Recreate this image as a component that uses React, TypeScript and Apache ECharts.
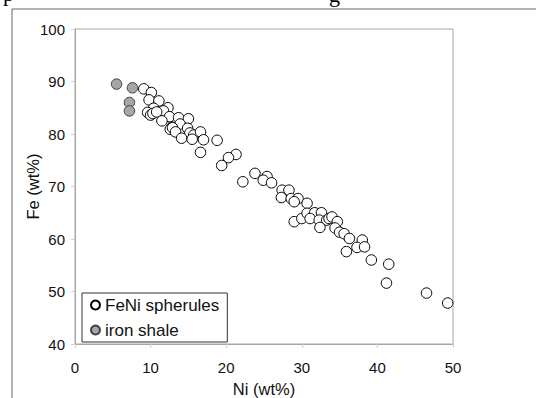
import React, { useEffect, useRef } from "react";
import * as echarts from "echarts";

const xTicks = [0, 10, 20, 30, 40, 50];
const yTicks = [40, 50, 60, 70, 80, 90, 100];

const spherulesNi = [
  9.1, 10.1, 9.8, 11.1, 10.4, 12.3, 11.7, 9.6, 10.0, 10.3, 10.8, 12.5, 13.7, 15.0,
  11.5, 13.9, 12.8, 12.6, 12.9, 14.9, 13.3, 15.2, 15.7, 16.6, 14.1, 15.5, 17.0, 18.8,
  16.6, 21.3, 20.3, 19.4, 23.8, 25.4, 24.9, 26.0, 22.2, 27.4, 28.3, 27.3, 28.6, 29.5,
  29.0, 30.7, 29.0, 30.0, 30.7, 31.7, 32.6, 31.1, 32.3, 33.3, 33.6, 34.0, 34.7, 32.4,
  34.4, 35.0, 35.6, 36.3, 38.0, 37.3, 38.3, 35.9, 39.2, 41.5, 41.2, 46.5, 49.3,
];
const spherulesFe = [
  88.6, 87.9, 86.5, 86.3, 84.9, 85.0, 84.4, 84.1, 83.6, 83.9, 84.2, 83.3, 83.1, 82.9,
  82.5, 81.9, 81.3, 80.9, 81.2, 81.1, 80.4, 80.2, 79.8, 80.4, 79.2, 79.0, 78.9, 78.8,
  76.5, 76.1, 75.5, 74.0, 72.5, 71.9, 71.2, 70.7, 70.9, 69.3, 69.3, 67.9, 67.7, 67.7,
  67.1, 66.8, 63.3, 63.9, 64.9, 65.0, 65.0, 63.9, 63.6, 63.6, 63.9, 64.2, 63.3, 62.2,
  62.1, 61.3, 61.0, 60.1, 59.8, 58.4, 58.5, 57.6, 56.0, 55.2, 51.6, 49.7, 47.8,
];

const shaleNi = [5.5, 7.6, 7.2, 7.2];
const shaleFe = [89.5, 88.8, 86.0, 84.4];

const seriesNames = ["FeNi spherules", "iron shale"];
const xName = "Ni (wt%)";
const yName = "Fe (wt%)";

const FONT = "'Liberation Sans', Arial, sans-serif";

export default function App() {
  const ref = useRef<HTMLDivElement>(null);
  useEffect(() => {
    if (!ref.current) return;
    const chart = echarts.init(ref.current, undefined, { renderer: "svg" });
    const sph = spherulesNi.map((x, i) => [x, spherulesFe[i]]);
    const sh = shaleNi.map((x, i) => [x, shaleFe[i]]);
    chart.setOption({
      animation: false,
      backgroundColor: "#ffffff",
      textStyle: { fontFamily: FONT },
      grid: {
        left: 75,
        top: 29,
        right: 83,
        bottom: 54,
        outerBoundsMode: "none",
        containLabel: false,
        show: true,
        borderColor: "#a6a6a6",
        borderWidth: 1,
      },
      legend: {
        orient: "vertical",
        left: 82,
        top: 293,
        padding: [3, 8, 3, 8],
        itemGap: 7,
        itemWidth: 9,
        itemHeight: 9,
        borderColor: "#333333",
        borderWidth: 1,
        backgroundColor: "#ffffff",
        textStyle: { fontFamily: FONT, fontSize: 17, color: "#111", lineHeight: 18 },
        data: seriesNames.map((n) => ({ name: n, icon: "circle" })),
      },
      xAxis: {
        type: "value",
        min: xTicks[0],
        max: xTicks[xTicks.length - 1],
        interval: 10,
        name: xName,
        nameLocation: "middle",
        nameGap: 36,
        nameMoveOverlap: false,
        nameTextStyle: { fontFamily: FONT, fontSize: 16.5, color: "#111", lineHeight: 17 },
        axisLine: { show: true, lineStyle: { color: "#a6a6a6" } },
        axisTick: { show: true, length: 4, lineStyle: { color: "#d0d0d0" } },
        axisLabel: { fontFamily: FONT, fontSize: 15, color: "#111", margin: 16 },
        splitLine: { show: false },
      },
      yAxis: {
        type: "value",
        min: yTicks[0],
        max: yTicks[yTicks.length - 1],
        interval: 10,
        name: yName,
        nameLocation: "middle",
        nameGap: 34,
        nameMoveOverlap: false,
        nameTextStyle: { fontFamily: FONT, fontSize: 16.5, color: "#111" },
        axisLine: { show: true, lineStyle: { color: "#a6a6a6" } },
        axisTick: { show: true, length: 4, lineStyle: { color: "#d0d0d0" } },
        axisLabel: { fontFamily: FONT, fontSize: 15, color: "#111", margin: 10 },
        splitLine: { show: false },
      },
      graphic: [
        {
          type: "line",
          shape: { x1: 12, y1: 9, x2: 536, y2: 9 },
          style: { stroke: "#666666", lineWidth: 1 },
          silent: true,
        },
        {
          type: "line",
          shape: { x1: 12, y1: 9, x2: 12, y2: 398 },
          style: { stroke: "#666666", lineWidth: 1 },
          silent: true,
        },
        {
          type: "text",
          x: 3,
          y: 4,
          style: {
            text: "p",
            font: "22px 'Liberation Serif', serif",
            fill: "#000",
            verticalAlign: "bottom",
          },
          silent: true,
        },
        {
          type: "text",
          x: 329,
          y: 5,
          style: {
            text: "g",
            font: "22px 'Liberation Serif', serif",
            fill: "#000",
            verticalAlign: "bottom",
          },
          silent: true,
        },
      ],
      series: [
        {
          name: seriesNames[0],
          type: "scatter",
          data: sph,
          symbol: "circle",
          symbolSize: 10.5,
          itemStyle: { color: "#ffffff", borderColor: "#000000", borderWidth: 1, opacity: 1 },
        },
        {
          name: seriesNames[1],
          type: "scatter",
          data: sh,
          symbol: "circle",
          symbolSize: 10.5,
          itemStyle: { color: "#a6a6a6", borderColor: "#404040", borderWidth: 1, opacity: 1 },
        },
      ],
    });
    return () => chart.dispose();
  }, []);
  return (
    <div
      ref={ref}
      style={{ position: "fixed", left: 0, top: 0, width: 536, height: 398 }}
    />
  );
}
